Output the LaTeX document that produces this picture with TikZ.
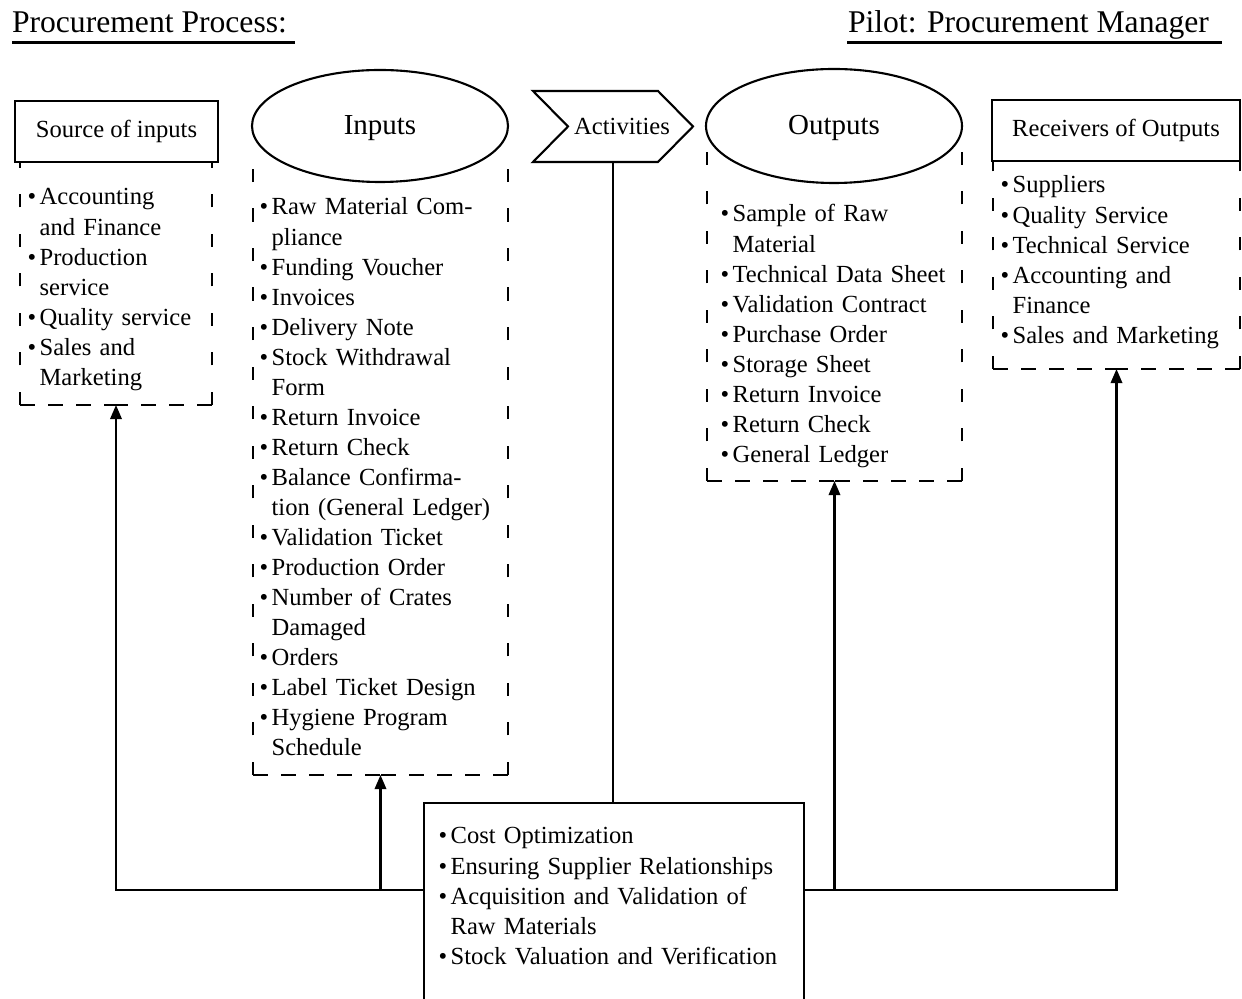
\documentclass[tikz,border=0pt]{standalone}
\usepackage{fontspec}
\setmainfont{Liberation Serif}
\usetikzlibrary{arrows.meta,shapes.geometric,calc}
\newlength{\upx}
\setlength{\upx}{0.02cm}
\newcommand{\lbul}{\textbullet\hspace{2pt}}
\newcommand{\lind}{\phantom{\textbullet\hspace{2pt}}}

\begin{document}
\begin{tikzpicture}[x=0.02cm, y=-0.02cm,
  every node/.style={inner sep=0pt, outer sep=0pt},
  heading/.style={anchor=base west, font=\fontsize{18}{21}\selectfont},
  headrule/.style={line width=1.3pt},
  titlebox/.style={draw, line width=1.2pt, font=\fontsize{14}{17}\selectfont},
  titleoval/.style={ellipse, draw, line width=1.2pt, fill=white,
    font=\fontsize{16.5}{19}\selectfont, text height=10pt, text depth=0pt},
  area/.style={rectangle},
  hdash/.style={line width=1.3pt, dash pattern=on 8.5pt off 7.5pt},
  vdash/.style={line width=1.3pt, dash pattern=on 7.5pt off 15pt},
  itemlist/.style={anchor=base west, align=left, text width=#1,
    font=\fontsize{14}{17.1}\selectfont},
  link/.style={line width=1.2pt},
  arrowlink/.style={link, -{Triangle[length=8pt,width=6.5pt]}},
]
\clip (0,0) rectangle (1242,999);

% headings
\node[heading] (procTitle) at (12,33) {Procurement Process:};
\draw[headrule] (12,42.5) -- (295,42.5);
\node[heading] (pilotTitle) at (848,33) {Pilot: Procurement Manager};
\draw[headrule] (847,42.5) -- (1222,42.5);

% areas holding the four lists
\node[area, minimum width=192\upx, minimum height=243\upx] (srcF) at (116,283.5) {};
\node[area, minimum width=255\upx, minimum height=625\upx] (inF)  at (380.5,462.5) {};
\node[area, minimum width=255\upx, minimum height=331\upx] (outF) at (834.5,315.5) {};
\node[area, minimum width=247\upx, minimum height=208\upx] (recF) at (1116.5,265) {};

% open dashed frames (no top edge)
\foreach \f in {srcF,inF,outF,recF}{
  \draw[hdash] (\f.south west) -- (\f.south);
  \draw[hdash] (\f.south east) -- (\f.south);
  \draw[vdash] (\f.south west) -- (\f.north west);
  \draw[vdash] (\f.south east) -- (\f.north east);
}

% column headers
\node[titlebox, minimum width=203\upx, minimum height=61\upx] (src) at (116.5,131.5) {Source of inputs};
\node[titleoval, minimum width=256\upx, minimum height=112\upx] (inputs) at (380,126) {Inputs};
\node[area, minimum width=160\upx, minimum height=71\upx] (act) at (613,126.5) {};
\draw[line width=1.2pt, line join=miter]
  (act.north west) -- ($(act.north east)+(-35,0)$) -- (act.east)
  -- ($(act.south east)+(-35,0)$) -- (act.south west)
  -- ($(act.west)+(35,0)$) -- cycle;
\node[font=\fontsize{14}{17}\selectfont, anchor=base] (actlbl) at (622,135) {Activities};
\node[titleoval, minimum width=256\upx, minimum height=114\upx] (outputs) at (834,126) {Outputs};
\node[titlebox, minimum width=248\upx, minimum height=61\upx] (rec) at (1116,130.5) {Receivers of Outputs};

% activity box
\node[draw, line width=1.2pt, minimum width=380\upx, minimum height=215\upx, anchor=north west] (tasks) at (424,803) {};

% lists
\node[itemlist=190\upx] (srcL) at (27.5,205) {%
\lbul Accounting\\
\lind and Finance\\
\lbul Production\\
\lind service\\
\lbul Quality service\\
\lbul Sales and\\
\lind Marketing};

\node[itemlist=250\upx] (inL) at (259.5,215) {%
\lbul Raw Material Com-\\
\lind pliance\\
\lbul Funding Voucher\\
\lbul Invoices\\
\lbul Delivery Note\\
\lbul Stock Withdrawal\\
\lind Form\\
\lbul Return Invoice\\
\lbul Return Check\\
\lbul Balance Confirma-\\
\lind tion (General Ledger)\\
\lbul Validation Ticket\\
\lbul Production Order\\
\lbul Number of Crates\\
\lind Damaged\\
\lbul Orders\\
\lbul Label Ticket Design\\
\lbul Hygiene Program\\
\lind Schedule};

\node[itemlist=240\upx] (outL) at (720.5,222) {%
\lbul Sample of Raw\\
\lind Material\\
\lbul Technical Data Sheet\\
\lbul Validation Contract\\
\lbul Purchase Order\\
\lbul Storage Sheet\\
\lbul Return Invoice\\
\lbul Return Check\\
\lbul General Ledger};

\node[itemlist=238\upx] (recL) at (1000.5,193) {%
\lbul Suppliers\\
\lbul Quality Service\\
\lbul Technical Service\\
\lbul Accounting and\\
\lind Finance\\
\lbul Sales and Marketing};

\node[itemlist=360\upx] (tasksL) at (438.5,844) {%
\lbul Cost Optimization\\
\lbul Ensuring Supplier Relationships\\
\lbul Acquisition and Validation of\\
\lind Raw Materials\\
\lbul Stock Valuation and Verification};

% connectors
\coordinate (hubL) at ($(tasks.north west)+(0,87)$);
\coordinate (hubR) at ($(tasks.north east)+(0,87)$);
\draw[arrowlink] (hubL) -| (srcF.south);
\draw[arrowlink] (hubL -| inF.south) -- (inF.south);
\draw[arrowlink] (hubR) -| (recF.south);
\draw[arrowlink] (hubR -| outF.south) -- (outF.south);
\draw[link] (act.south) -- (act.south |- tasks.north);
\end{tikzpicture}
\end{document}
